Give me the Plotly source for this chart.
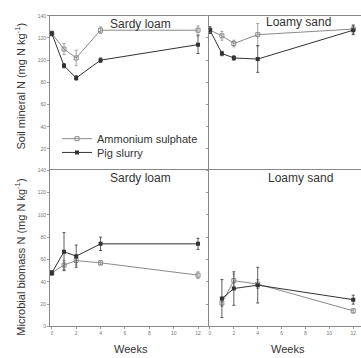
import plotly.graph_objects as go

W, H = 361, 358

# ---- data ----
weeks = [0, 1, 2, 4, 12]
weeks_ls_bio = [1, 2, 4, 12]

min_sl_as = [124, 110, 102, 127, 127]
min_sl_as_err = [2, 5, 7, 3, 4]
min_sl_ps = [124, 95, 84, 100, 114]
min_sl_ps_err = [2, 2, 2, 2, 8]

min_ls_as = [127, 122, 115, 123, 128]
min_ls_as_err = [3, 4, 3, 10, 4]
min_ls_ps = [127, 106, 102, 101, 127]
min_ls_ps_err = [3, 2, 2, 12, 4]

bio_sl_as = [48, 55, 59, 57, 46]
bio_sl_as_err = [2, 4, 4, 2, 3]
bio_sl_ps = [48, 67, 63, 74, 74]
bio_sl_ps_err = [2, 17, 10, 6, 5]

bio_ls_as = [21, 41, 38, 14]
bio_ls_as_err = [3, 6, 4, 2]
bio_ls_ps = [25, 34, 37, 24]
bio_ls_ps_err = [17, 15, 16, 4]

yticks = [0, 20, 40, 60, 80, 100, 120, 140]
yticks_top = [20, 40, 60, 80, 100, 120, 140]
xticks = [0, 2, 4, 6, 8, 10, 12]

AS_COL = "#8a8a8a"
PS_COL = "#333333"
TXT = "#333333"

def px(x):
    return x / W

def py(y):
    return (H - y) / H

fig = go.Figure()

def add_pair(xa, ya, x_as, y_as, e_as, x_ps, y_ps, e_ps, legend):
    fig.add_trace(go.Scatter(
        x=x_as, y=y_as, xaxis=xa, yaxis=ya, mode="lines+markers",
        name="Ammonium sulphate", showlegend=legend, legend="legend",
        line=dict(color=AS_COL, width=1),
        marker=dict(symbol="square-open", size=4, color=AS_COL, line=dict(width=1)),
        error_y=dict(type="data", array=e_as, color=AS_COL, thickness=0.8, width=1.5)))
    fig.add_trace(go.Scatter(
        x=x_ps, y=y_ps, xaxis=xa, yaxis=ya, mode="lines+markers",
        name="Pig slurry", showlegend=legend, legend="legend2",
        line=dict(color=PS_COL, width=1),
        marker=dict(symbol="square", size=4, color=PS_COL),
        error_y=dict(type="data", array=e_ps, color=PS_COL, thickness=0.8, width=1.5)))

add_pair("x", "y", weeks, min_sl_as, min_sl_as_err, weeks, min_sl_ps, min_sl_ps_err, True)
add_pair("x2", "y2", weeks, min_ls_as, min_ls_as_err, weeks, min_ls_ps, min_ls_ps_err, False)
add_pair("x3", "y3", weeks, bio_sl_as, bio_sl_as_err, weeks, bio_sl_ps, bio_sl_ps_err, False)
add_pair("x4", "y4", weeks_ls_bio, bio_ls_as, bio_ls_as_err, weeks_ls_bio, bio_ls_ps, bio_ls_ps_err, False)

dom_left = [px(50), px(209)]
dom_right = [px(209), 1.0]
dom_top = [py(171), py(13)]
dom_bot = [py(329), py(170)]

axline = dict(showline=True, linecolor="#888888", linewidth=1, showgrid=False, zeroline=False,
              ticks="outside", ticklen=2, tickcolor="#999999",
              tickfont=dict(size=5, color="#777777", family="Liberation Sans"))

xl_range = [-0.15, 12.9]
xr_range = [-0.08, 12.65]

leg_common = dict(xanchor="left", yanchor="middle", bgcolor="rgba(0,0,0,0)",
                  font=dict(size=11, color=TXT), itemwidth=30)

fig.update_layout(
    width=W, height=H, margin=dict(l=0, r=0, t=0, b=0),
    paper_bgcolor="white", plot_bgcolor="white",
    font=dict(family="Liberation Sans", color=TXT),
    showlegend=True,
    legend=dict(x=px(57), y=py(138), **leg_common),
    legend2=dict(x=px(57), y=py(152), **leg_common),
    xaxis=dict(domain=dom_left, range=xl_range, anchor="y", mirror=True,
               tickvals=xticks, showticklabels=False, **axline),
    xaxis2=dict(domain=dom_right, range=xr_range, anchor="y2", mirror=True,
                tickvals=xticks, showticklabels=False, **axline),
    xaxis3=dict(domain=dom_left, range=xl_range, anchor="y3", mirror=True,
                tickvals=xticks, **axline),
    xaxis4=dict(domain=dom_right, range=xr_range, anchor="y4", mirror=True,
                tickvals=xticks, **axline),
    yaxis=dict(domain=dom_top, range=[0, 140], anchor="x", tickvals=yticks_top, **axline),
    yaxis2=dict(domain=dom_top, range=[0, 140], anchor="x2", tickvals=yticks,
                showticklabels=False, **axline),
    yaxis3=dict(domain=dom_bot, range=[0, 140], anchor="x3", tickvals=yticks, **axline),
    yaxis4=dict(domain=dom_bot, range=[0, 140], anchor="x4", tickvals=yticks,
                showticklabels=False, **axline),
)

def txt(x, y, s, size=11, angle=0):
    fig.add_annotation(x=px(x), y=py(y), xref="paper", yref="paper", text=s,
                       showarrow=False, textangle=angle, xanchor="center", yanchor="middle",
                       font=dict(size=size, color=TXT, family="Liberation Sans"))

txt(140, 21, "Sardy loam", size=12)
txt(298, 19, "Loamy sand", size=12)
txt(140, 178, "Sardy loam", size=12)
txt(300, 178, "Loamy sand", size=12)
txt(20, 85, "Soil mineral N (mg N kg<sup>-1</sup>)")
txt(20, 259, "Microbial biomass N (mg N kg<sup>-1</sup>)")
txt(131, 352, "Weeks")
txt(288, 352, "Weeks")
for a in fig.layout.annotations:
    if "N (mg" in a.text:
        a.textangle = -90

fig.write_html("out.html", config={"displayModeBar": False},
               post_script="document.body.style.margin='0';document.body.style.overflow='hidden';")
